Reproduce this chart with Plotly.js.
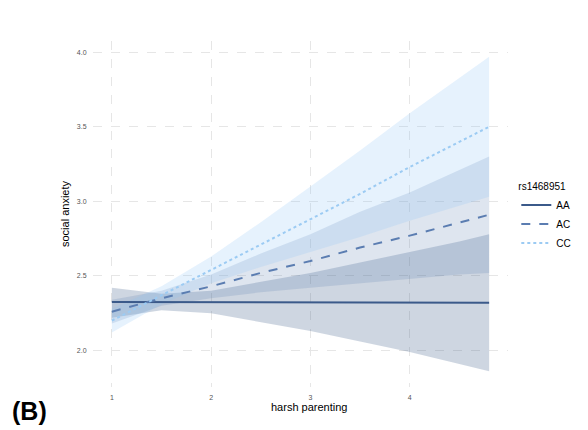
<!DOCTYPE html>
<html>
<head>
<meta charset="utf-8">
<script src="https://cdn.plot.ly/plotly-3.0.1.min.js"></script>
<style>html,body{margin:0;padding:0;background:#fff;}#chart{width:588px;height:430px;}</style>
</head>
<body>
<div id="chart"></div>
<script>
// harsh parenting sample positions
const xs = [1, 1.5, 2, 2.5, 3, 3.5, 4, 4.5, 4.8];

// genotype groups
const groups = ["AA", "AC", "CC"];

// predicted social anxiety
const aaFit   = [2.325, 2.324, 2.324, 2.323, 2.323, 2.322, 2.321, 2.321, 2.320];
const aaLower = [2.22, 2.27, 2.25, 2.19, 2.13, 2.06, 1.99, 1.91, 1.86];
const aaUpper = [2.42, 2.38, 2.40, 2.46, 2.52, 2.59, 2.66, 2.73, 2.78];

const acFit   = [2.26, 2.35, 2.43, 2.52, 2.60, 2.69, 2.77, 2.86, 2.91];
const acLower = [2.18, 2.30, 2.35, 2.39, 2.42, 2.45, 2.48, 2.51, 2.52];
const acUpper = [2.34, 2.40, 2.51, 2.65, 2.78, 2.93, 3.06, 3.21, 3.30];

const ccFit   = [2.20, 2.37, 2.54, 2.71, 2.88, 3.05, 3.23, 3.40, 3.50];
const ccLower = [2.12, 2.31, 2.45, 2.56, 2.66, 2.76, 2.87, 2.97, 3.03];
const ccUpper = [2.28, 2.43, 2.63, 2.86, 3.10, 3.34, 3.59, 3.83, 3.97];

// tick labels
const xTicks = [1, 2, 3, 4];
const xTickText = ["1", "2", "3", "4"];
const yTicks = [2.0, 2.5, 3.0, 3.5, 4.0];
const yTickText = ["2.0", "2.5", "3.0", "3.5", "4.0"];

const fits = [aaFit, acFit, ccFit];
const lowers = [aaLower, acLower, ccLower];
const uppers = [aaUpper, acUpper, ccUpper];
const lineColors = ["#3b5a8a", "#5b7db1", "#9ccbf3"];
const fillColors = ["rgba(60,90,137,0.25)", "rgba(91,125,176,0.2)", "rgba(140,195,245,0.22)"];
const dashes = ["solid", "dash", "dot"];

const traces = [];
groups.forEach((g, i) => {
  traces.push({x: xs, y: lowers[i], type: "scatter", mode: "lines", line: {width: 0, color: "rgba(0,0,0,0)"}, showlegend: false, hoverinfo: "skip"});
  traces.push({x: xs, y: uppers[i], type: "scatter", mode: "lines", fill: "tonexty", fillcolor: fillColors[i], line: {width: 0, color: "rgba(0,0,0,0)"}, showlegend: false, hoverinfo: "skip"});
});
groups.forEach((g, i) => {
  traces.push({x: xs, y: fits[i], type: "scatter", mode: "lines", name: g, line: {color: lineColors[i], width: 2, dash: dashes[i]}});
});

const layout = {
  width: 588, height: 430,
  margin: {l: 93, r: 80, t: 41, b: 43},
  paper_bgcolor: "#ffffff", plot_bgcolor: "#ffffff",
  font: {family: "Liberation Sans, Arial, sans-serif", color: "#000"},
  xaxis: {
    range: [0.81, 4.99], tickvals: xTicks, ticktext: xTickText,
    showgrid: true, gridcolor: "#e6e6e6", griddash: "dash", gridwidth: 1,
    zeroline: false, showline: false,
    ticks: "outside", ticklen: 4, tickcolor: "rgba(0,0,0,0)",
    tickfont: {size: 7, color: "#555"},
    title: {text: ""}
  },
  yaxis: {
    range: [1.755, 4.075], tickvals: yTicks, ticktext: yTickText,
    showgrid: true, gridcolor: "#e6e6e6", griddash: "dash", gridwidth: 1,
    zeroline: false, showline: false,
    ticks: "outside", ticklen: 4, tickcolor: "rgba(0,0,0,0)",
    tickfont: {size: 7, color: "#555"},
    title: {text: "social anxiety", font: {size: 11, color: "#000"}, standoff: 5}
  },
  legend: {
    x: 1.02, xanchor: "left", y: 0.49, yanchor: "middle",
    traceorder: "normal",
    font: {size: 10, color: "#000"},
    title: {text: "rs1468951", font: {size: 10, color: "#000"}},
    tracegroupgap: 0, itemwidth: 30
  },
  annotations: [
    {text: "harsh parenting", xref: "paper", yref: "paper", x: 0.52, y: -0.035, yanchor: "top", showarrow: false, font: {size: 11, color: "#000"}},
    {text: "<b>(B)</b>", xref: "paper", yref: "paper", x: -0.2, y: -0.07, xanchor: "left", yanchor: "middle", showarrow: false, font: {size: 25, color: "#000"}}
  ],
  showlegend: true
};

Plotly.newPlot("chart", traces, layout, {displayModeBar: false, staticPlot: true});
</script>
</body>
</html>
